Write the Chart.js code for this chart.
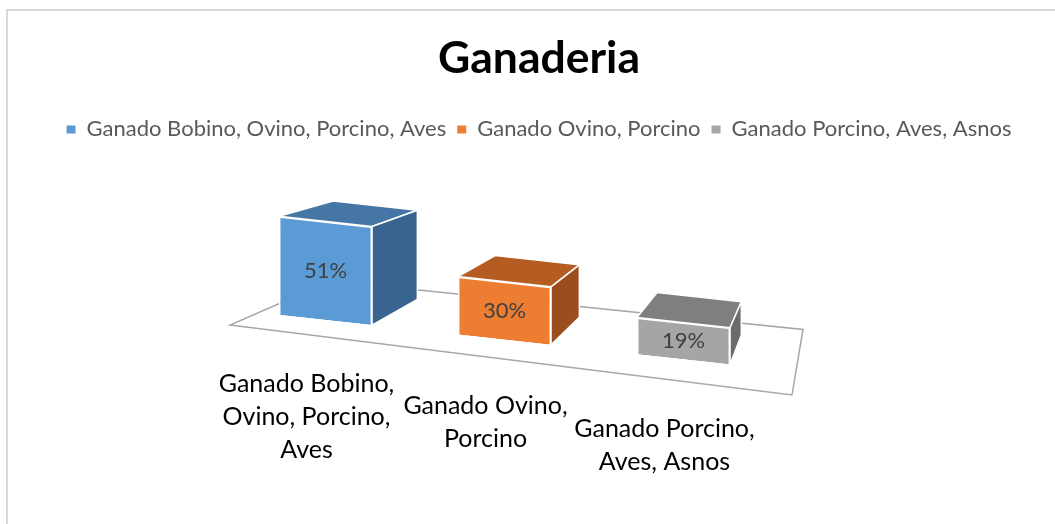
<!DOCTYPE html>
<html>
<head>
<meta charset="utf-8">
<title>Ganaderia</title>
<script src="https://cdn.jsdelivr.net/npm/chart.js@4.4.1/dist/chart.umd.min.js"></script>
<style>
    html, body { margin: 0; padding: 0; background: #fff; overflow: hidden; }
    #wrapper { position: absolute; left: 6px; top: 9px; width: 1062px; height: 530px; border: 2px solid #d9d9d9; }
    #ganaderiaChart { display: block; }
</style>
</head>
<body>
<div id="wrapper"><canvas id="ganaderiaChart"></canvas></div>
<script>
// Datos del grafico
var categorias = ['Ganado Bobino, Ovino, Porcino, Aves', 'Ganado Ovino, Porcino', 'Ganado Porcino, Aves, Asnos'];
var etiquetasEje = [['Ganado Bobino,', 'Ovino, Porcino,', 'Aves'], ['Ganado Ovino,', 'Porcino'], ['Ganado Porcino,', 'Aves, Asnos']];
var porcentajes = [51, 30, 19];

// Colores de las caras (frente, arriba, lado)
var coloresFrente = ['#5B9BD5', '#ED7D31', '#A5A5A5'];
var coloresArriba = ['#4676A5', '#B45C22', '#7F7F7F'];
var coloresLado = ['#3A6490', '#9A4E1D', '#6B6B6B'];

var K = 0.11;              // inclinacion del plano frontal
var FUGA = [841, 44];      // punto de fuga de la profundidad
var PROF = 0.095;          // profundidad de las barras

function fondo(p, f) {
    return [p[0] + f * (FUGA[0] - p[0]), p[1] + f * (FUGA[1] - p[1])];
}

function poligono(ctx, pts, color) {
    ctx.beginPath();
    ctx.moveTo(pts[0][0], pts[0][1]);
    for (var i = 1; i < pts.length; i++) ctx.lineTo(pts[i][0], pts[i][1]);
    ctx.closePath();
    if (color) {
        ctx.fillStyle = color;
        ctx.fill();
    }
}

var efecto3d = {
    id: 'efecto3d',
    beforeDatasetsDraw: function (chart) {
        var ctx = chart.ctx, area = chart.chartArea;
        var x0 = area.left + 94;
        // Piso
        var fl = [area.left - 6, area.bottom + 4.5];
        var fr = [area.right + 19, area.bottom + 74.5];
        ctx.save();
        poligono(ctx, [fl, fr, fondo(fr, 0.193), fondo(fl, 0.163)], null);
        ctx.strokeStyle = '#A6A6A6';
        ctx.lineWidth = 1.5;
        ctx.stroke();
        ctx.restore();
        // Frente inclinado
        ctx.save();
        ctx.transform(1, K, 0, 1, 0, -K * x0);
    },
    afterDatasetsDraw: function (chart) {
        var ctx = chart.ctx, area = chart.chartArea;
        ctx.restore();
        var x0 = area.left + 94;
        var sh = function (x, y) { return [x, y + K * (x - x0)]; };
        var meta = chart.getDatasetMeta(0);
        ctx.save();
        ctx.strokeStyle = '#ffffff';
        ctx.lineWidth = 1.5;
        ctx.lineJoin = 'round';
        meta.data.forEach(function (bar, i) {
            var p = bar.getProps(['x', 'y', 'base', 'width'], true);
            var l = p.x - p.width / 2, r = p.x + p.width / 2;
            var tl = sh(l, p.y), tr = sh(r, p.y), br = sh(r, p.base);
            poligono(ctx, [tl, tr, fondo(tr, PROF), fondo(tl, PROF)], coloresArriba[i]);
            ctx.stroke();
            poligono(ctx, [tr, br, fondo(br, PROF), fondo(tr, PROF)], coloresLado[i]);
            ctx.stroke();

            // Etiqueta de datos
            var c = sh(p.x, (p.y + p.base) / 2);
            ctx.fillStyle = '#404040';
            ctx.font = '22px Lato';
            ctx.textAlign = 'center';
            ctx.textBaseline = 'middle';
            ctx.fillText(porcentajes[i] + '%', c[0], c[1]);

            // Etiquetas del eje
            ctx.fillStyle = '#000000';
            ctx.font = '25px Lato';
            var yl = area.bottom + 64 + 0.125 * (p.x - x0);
            etiquetasEje[i].forEach(function (linea, j) {
                ctx.fillText(linea, p.x - 19, yl + j * 33);
            });
        });
        ctx.restore();
    }
};

function crearGrafico() {
    var ctx = document.getElementById('ganaderiaChart').getContext('2d');
    new Chart(ctx, {
        type: 'bar',
        data: {
            labels: categorias,
            datasets: [{
                data: porcentajes,
                backgroundColor: coloresFrente,
                borderColor: '#ffffff',
                borderWidth: 1.5,
                barPercentage: 0.52,
                categoryPercentage: 1
            }]
        },
        options: {
            responsive: true,
            maintainAspectRatio: false,
            animation: false,
            events: [],
            layout: { padding: 0 },
            scales: {
                x: {
                    ticks: { display: false },
                    grid: { display: false },
                    border: { display: false },
                    afterFit: function (scale) { scale.height = 220.5; }
                },
                y: {
                    min: 0,
                    max: 88,
                    ticks: { display: false },
                    grid: { display: false },
                    border: { display: false },
                    afterFit: function (scale) { scale.width = 228; }
                },
                derecha: {
                    type: 'linear',
                    position: 'right',
                    ticks: { display: false },
                    grid: { display: false },
                    border: { display: false },
                    afterFit: function (scale) { scale.width = 297; }
                }
            },
            plugins: {
                title: {
                    display: true,
                    text: 'Ganaderia',
                    color: '#000000',
                    font: { family: 'Lato', size: 44.5, weight: 'bold' },
                    padding: { top: 21, bottom: 22 }
                },
                legend: {
                    position: 'top',
                    labels: {
                        boxWidth: 9,
                        boxHeight: 8,
                        padding: 11,
                        color: '#595959',
                        font: { family: 'Lato', size: 22 },
                        generateLabels: function () {
                            return categorias.map(function (nombre, i) {
                                return {
                                    text: nombre,
                                    fillStyle: coloresFrente[i],
                                    strokeStyle: coloresFrente[i],
                                    lineWidth: 0,
                                    fontColor: '#595959',
                                    index: i,
                                    datasetIndex: 0
                                };
                            });
                        }
                    }
                },
                tooltip: { enabled: false }
            }
        },
        plugins: [efecto3d]
    });
}

Promise.all([
    document.fonts.load('bold 44.5px Lato'),
    document.fonts.load('22px Lato'),
    document.fonts.load('25px Lato')
]).then(crearGrafico, crearGrafico);
</script>
</body>
</html>
